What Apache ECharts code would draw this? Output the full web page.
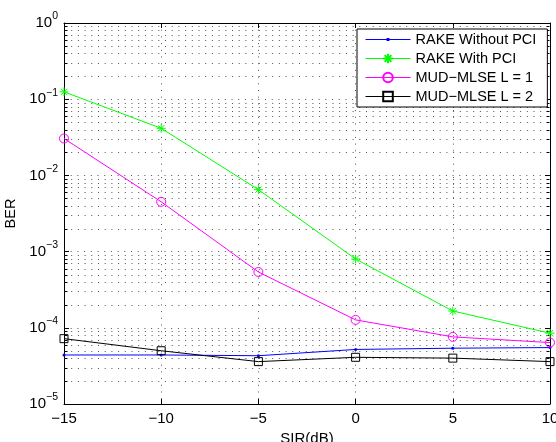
<!DOCTYPE html>
<html>
<head>
<meta charset="utf-8">
<script src="https://cdn.jsdelivr.net/npm/echarts@6/dist/echarts.min.js"></script>
<style>html,body{margin:0;padding:0;background:#fff}#c{width:556px;height:442px}</style>
</head>
<body>
<div id="c"></div>
<script>
var sir = [-15, -10, -5, 0, 5, 10];
var rakeWithoutPCI = [4.4e-5, 4.4e-5, 4.3e-5, 5.2e-5, 5.4e-5, 5.5e-5];
var rakeWithPCI = [0.125, 0.0415, 0.0065, 0.0008, 1.66e-4, 8.5e-5];
var mudL1 = [0.0305, 0.0045, 5.4e-4, 1.27e-4, 7.6e-5, 6.4e-5];
var mudL2 = [7.2e-5, 5.0e-5, 3.6e-5, 4.1e-5, 4.0e-5, 3.6e-5];
var seriesNames = ['RAKE Without PCI', 'RAKE With PCI', 'MUD\u2212MLSE L = 1', 'MUD\u2212MLSE L = 2'];
var xTicks = [-15, -10, -5, 0, 5, 10];
var yMinorGrid = [
  2e-5,3e-5,4e-5,5e-5,6e-5,7e-5,8e-5,9e-5,
  2e-4,3e-4,4e-4,5e-4,6e-4,7e-4,8e-4,9e-4,
  2e-3,3e-3,4e-3,5e-3,6e-3,7e-3,8e-3,9e-3,
  2e-2,3e-2,4e-2,5e-2,6e-2,7e-2,8e-2,9e-2,
  2e-1,3e-1,4e-1,5e-1,6e-1,7e-1,8e-1,9e-1
];

var FONT = "'Liberation Sans', Arial, Helvetica, sans-serif";
var X_MIN = -15, X_MAX = 10;
var gridDot = {color: '#555', width: 1, type: [1, 5.7]};

function pairs(ys) { return sir.map(function (x, i) { return [x, ys[i]]; }); }

var chart = echarts.init(document.getElementById('c'), null, {renderer: 'canvas'});
chart.setOption({
  animation: false,
  backgroundColor: '#fff',
  grid: {left: 64, right: 6, top: 23, bottom: 38, containLabel: false, outerBoundsMode: 'none'},
  legend: {
    data: [
      {name: seriesNames[0], icon: 'path://M0,0L0.01,0L0,0.01ZM0,5.5L45,5.5L45,6.5L0,6.5ZM21,4.5L24,4.5L24,7.5L21,7.5ZM45,12L44.99,12L45,11.99Z'},
      seriesNames[1], seriesNames[2], seriesNames[3]
    ],
    orient: 'vertical',
    left: 357, top: 29,
    padding: [2, 11, 2, 8],
    itemWidth: 45, itemHeight: 12, itemGap: 2,
    backgroundColor: '#fff',
    borderColor: '#000', borderWidth: 1, borderRadius: 0,
    lineStyle: {width: 1},
    textStyle: {fontFamily: FONT, fontSize: 14.5, color: '#000', lineHeight: 17}
  },
  xAxis: [{
    type: 'value', min: X_MIN, max: X_MAX, interval: 5, position: 'bottom',
    name: 'SIR(dB)', nameLocation: 'middle', nameGap: 24,
    nameTextStyle: {fontFamily: FONT, fontSize: 15, color: '#000'},
    axisLine: {onZero: false, lineStyle: {color: '#000', width: 1}},
    axisTick: {inside: true, length: 5, lineStyle: {color: '#000'}},
    axisLabel: {fontFamily: FONT, fontSize: 15, color: '#000', margin: 7,
      formatter: function (v) { return (v < 0 ? '\u2212' + Math.abs(v) : String(v)); }},
    splitLine: {show: true, lineStyle: gridDot}
  }, {
    type: 'value', min: X_MIN, max: X_MAX, interval: 5, position: 'top',
    axisLine: {onZero: false, lineStyle: {color: '#000', width: 1}},
    axisTick: {inside: true, length: 5, lineStyle: {color: '#000'}},
    axisLabel: {show: false}, splitLine: {show: false}
  }],
  yAxis: [{
    type: 'log', logBase: 10, min: 1e-5, max: 1, position: 'left',
    name: 'BER', nameLocation: 'middle', nameGap: 34,
    nameTextStyle: {fontFamily: FONT, fontSize: 14.5, color: '#000'},
    axisLine: {onZero: false, lineStyle: {color: '#000', width: 1}},
    axisTick: {inside: true, length: 5, lineStyle: {color: '#000'}},
    axisLabel: {
      fontFamily: FONT, fontSize: 15, color: '#000', margin: 6,
      formatter: function (v) {
        var e = Math.round(Math.log(v) / Math.LN10);
        return '{b|10}{e|' + (e < 0 ? '\u2212' + Math.abs(e) : e) + '}';
      },
      rich: {
        b: {fontFamily: FONT, fontSize: 15, color: '#000'},
        e: {fontFamily: FONT, fontSize: 10.5, color: '#000', padding: [0, 0, 13, 0]}
      }
    },
    splitLine: {show: true, lineStyle: gridDot}
  }, {
    type: 'log', logBase: 10, min: 1e-5, max: 1, position: 'right',
    axisLine: {onZero: false, lineStyle: {color: '#000', width: 1}},
    axisTick: {inside: true, length: 5, lineStyle: {color: '#000'}},
    axisLabel: {show: false}, splitLine: {show: false}
  }],
  series: [{
    name: 'minorGrid', type: 'custom', silent: true, z: 1,
    xAxisIndex: 0, yAxisIndex: 0,
    encode: {x: 0, y: 1},
    data: yMinorGrid.map(function (v) { return [X_MIN, v]; }),
    renderItem: function (params, api) {
      var v = api.value(1);
      var p1 = api.coord([X_MIN, v]);
      var p2 = api.coord([X_MAX, v]);
      var y = Math.round(p1[1]) + 0.5;
      var xl = Math.round(p1[0]) + 0.5, xr = Math.round(p2[0]) - 0.5;
      return {type: 'group', children: [
        {type: 'line', shape: {x1: xl, y1: y, x2: xr, y2: y}, style: {stroke: '#555', lineWidth: 1, lineDash: [1, 5.7]}},
        {type: 'line', shape: {x1: xl, y1: y, x2: xl + 3, y2: y}, style: {stroke: '#000', lineWidth: 1}},
        {type: 'line', shape: {x1: xr - 3, y1: y, x2: xr, y2: y}, style: {stroke: '#000', lineWidth: 1}}
      ]};
    }
  }, {
    name: seriesNames[0], type: 'line', z: 3, data: pairs(rakeWithoutPCI),
    symbol: 'circle', symbolSize: 3, showAllSymbol: true,
    lineStyle: {color: '#0000ff', width: 1},
    itemStyle: {color: '#0000ff'}
  }, {
    name: seriesNames[1], type: 'line', z: 3, data: pairs(rakeWithPCI),
    symbol: 'path://M0,-10L0,10M-10,0L10,0M-7,-7L7,7M-7,7L7,-7', symbolSize: 9, showAllSymbol: true,
    lineStyle: {color: '#00ff00', width: 1},
    itemStyle: {color: 'none', borderColor: '#00ff00', borderWidth: 1}
  }, {
    name: seriesNames[2], type: 'line', z: 3, data: pairs(mudL1),
    symbol: 'circle', symbolSize: 9, showAllSymbol: true,
    lineStyle: {color: '#ff00ff', width: 1},
    itemStyle: {color: 'none', borderColor: '#ff00ff', borderWidth: 1}
  }, {
    name: seriesNames[3], type: 'line', z: 3, data: pairs(mudL2),
    symbol: 'rect', symbolSize: 8, showAllSymbol: true,
    lineStyle: {color: '#000000', width: 1},
    itemStyle: {color: 'none', borderColor: '#000000', borderWidth: 1}
  }]
});
</script>
</body>
</html>
